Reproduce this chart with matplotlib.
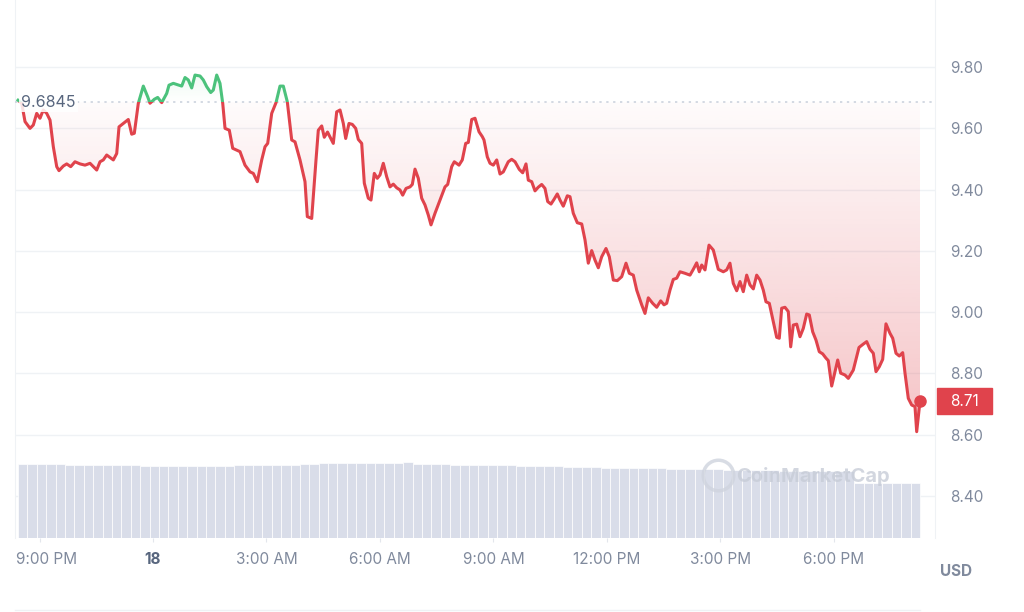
import numpy as np
import matplotlib.pyplot as plt
import matplotlib.transforms as mtransforms
from matplotlib.colors import LinearSegmentedColormap, to_rgb
from matplotlib.patches import Rectangle, Polygon
from matplotlib.lines import Line2D

plt.rcParams['font.family'] = ['Inter', 'DejaVu Sans']

# time in hours after 9:00 PM, price in USD
hours = [-0.568, -0.471, -0.383, -0.251, -0.164, -0.074, 0.013, 0.100, 0.190, 0.278,
         0.365, 0.455, 0.515, 0.629, 0.719, 0.825, 0.938, 1.071, 1.203, 1.335,
         1.422, 1.512, 1.599, 1.686, 1.776, 1.864, 1.951, 2.041, 2.102, 2.215,
         2.347, 2.437, 2.506, 2.612, 2.744, 2.860, 2.921, 3.035, 3.124, 3.230,
         3.362, 3.423, 3.537, 3.759, 3.846, 3.933, 4.023, 4.110, 4.243, 4.330,
         4.420, 4.526, 4.594, 4.684, 4.771, 4.843, 4.904, 5.017, 5.107, 5.213,
         5.300, 5.432, 5.565, 5.652, 5.757, 5.874, 5.961, 6.032, 6.138, 6.252,
         6.357, 6.445, 6.550, 6.667, 6.754, 6.886, 7.018, 7.079, 7.195, 7.309,
         7.370, 7.460, 7.528, 7.613, 7.766, 7.856, 7.944, 8.031, 8.094, 8.181,
         8.269, 8.358, 8.427, 8.517, 8.586, 8.692, 8.763, 8.850, 8.929, 9.001,
         9.088, 9.178, 9.265, 9.352, 9.442, 9.529, 9.601, 9.688, 9.794, 9.855,
         9.926, 10.013, 10.103, 10.190, 10.278, 10.349, 10.455, 10.587, 10.719, 10.790,
         10.896, 10.965, 11.089, 11.176, 11.266, 11.335, 11.425, 11.512, 11.618, 11.705,
         11.750, 11.837, 11.909, 11.996, 12.086, 12.173, 12.260, 12.392, 12.482, 12.570,
         12.683, 12.773, 12.860, 12.921, 13.011, 13.098, 13.185, 13.275, 13.362, 13.434,
         13.521, 13.600, 13.687, 13.759, 13.846, 13.952, 14.023, 14.110, 14.216, 14.333,
         14.420, 14.507, 14.597, 14.684, 14.772, 14.861, 14.975, 15.062, 15.168, 15.274,
         15.390, 15.504, 15.591, 15.697, 15.787, 15.919, 16.006, 16.093, 16.209, 16.315,
         16.421, 16.508, 16.579, 16.666, 16.754, 16.844, 16.931, 17.063, 17.195, 17.283,
         17.372, 17.441, 17.505, 17.592, 17.698, 17.811, 17.943, 18.076, 18.165, 18.252,
         18.340, 18.430, 18.517, 18.604, 18.694, 18.781, 18.869, 18.958, 19.046, 19.133,
         19.204, 19.292, 19.397, 19.487, 19.556, 19.619, 19.706, 19.794, 19.857, 19.926,
         20.016, 20.103, 20.190, 20.280, 20.349, 20.439, 20.526, 20.613, 20.703, 20.790,
         20.851, 20.941, 21.028, 21.100, 21.179, 21.292, 21.380, 21.512, 21.663, 21.777,
         21.866, 21.953, 22.041, 22.112, 22.199, 22.289, 22.376, 22.482, 22.554, 22.641,
         22.728, 22.818, 22.879, 22.966, 23.056, 23.143, 23.188, 23.276]
price = [9.692, 9.682, 9.622, 9.600, 9.611, 9.649, 9.633, 9.660, 9.649, 9.627,
         9.540, 9.475, 9.462, 9.477, 9.484, 9.475, 9.491, 9.484, 9.480, 9.486,
         9.475, 9.464, 9.491, 9.497, 9.513, 9.505, 9.497, 9.518, 9.605, 9.616,
         9.629, 9.581, 9.584, 9.682, 9.738, 9.703, 9.682, 9.695, 9.701, 9.684,
         9.714, 9.741, 9.747, 9.738, 9.766, 9.758, 9.732, 9.774, 9.771, 9.758,
         9.736, 9.717, 9.725, 9.774, 9.747, 9.682, 9.600, 9.594, 9.535, 9.529,
         9.524, 9.480, 9.458, 9.453, 9.426, 9.497, 9.540, 9.551, 9.649, 9.684,
         9.738, 9.738, 9.687, 9.562, 9.556, 9.497, 9.426, 9.312, 9.306, 9.497,
         9.594, 9.608, 9.571, 9.588, 9.551, 9.654, 9.660, 9.616, 9.567, 9.616,
         9.613, 9.600, 9.564, 9.551, 9.421, 9.372, 9.366, 9.453, 9.437, 9.448,
         9.486, 9.442, 9.409, 9.418, 9.406, 9.399, 9.382, 9.404, 9.409, 9.417,
         9.467, 9.437, 9.372, 9.350, 9.317, 9.285, 9.323, 9.366, 9.409, 9.417,
         9.475, 9.491, 9.480, 9.497, 9.551, 9.554, 9.629, 9.633, 9.589, 9.573,
         9.562, 9.507, 9.486, 9.480, 9.497, 9.451, 9.458, 9.491, 9.499, 9.491,
         9.466, 9.455, 9.484, 9.431, 9.426, 9.396, 9.408, 9.417, 9.404, 9.361,
         9.353, 9.368, 9.386, 9.366, 9.346, 9.380, 9.377, 9.323, 9.292, 9.288,
         9.236, 9.160, 9.201, 9.170, 9.145, 9.181, 9.208, 9.181, 9.105, 9.103,
         9.116, 9.160, 9.127, 9.121, 9.072, 9.024, 8.996, 9.047, 9.029, 9.016,
         9.037, 9.024, 9.029, 9.072, 9.107, 9.111, 9.132, 9.127, 9.121, 9.140,
         9.161, 9.132, 9.154, 9.138, 9.219, 9.203, 9.140, 9.132, 9.138, 9.160,
         9.094, 9.070, 9.100, 9.067, 9.121, 9.089, 9.076, 9.121, 9.105, 9.072,
         9.034, 9.029, 8.969, 8.918, 8.915, 9.013, 9.016, 9.002, 8.887, 8.958,
         8.961, 8.920, 8.947, 8.994, 8.991, 8.936, 8.909, 8.871, 8.864, 8.850,
         8.842, 8.759, 8.806, 8.844, 8.801, 8.795, 8.784, 8.811, 8.885, 8.896,
         8.904, 8.879, 8.866, 8.806, 8.822, 8.846, 8.962, 8.931, 8.915, 8.866,
         8.857, 8.868, 8.801, 8.719, 8.697, 8.692, 8.610, 8.710]
ref_price = 9.6845

# 24h volume bars (M USD), 96 equal slots over the same window
vol_start, vol_end = -0.568, 23.276
volume = [37.0, 37.0, 37.0, 36.8, 36.8,
          36.3, 36.3, 36.3, 36.3, 36.3, 36.3, 36.3, 36.3,
          36.0, 36.0, 36.0, 36.0, 36.0, 36.0, 36.0, 36.0, 36.0, 36.0,
          36.3, 36.3, 36.3, 36.3, 36.3, 36.3, 36.3,
          37.0, 37.0,
          37.5, 37.5, 37.5, 37.5, 37.5, 37.5, 37.5, 37.5, 37.5,
          37.8,
          36.8, 36.8, 36.8, 36.8,
          36.5, 36.5, 36.5, 36.5, 36.5, 36.5, 36.5,
          36.0, 36.0, 36.0, 36.0, 36.0,
          35.5, 35.5, 35.5, 35.5,
          35.0, 35.0, 35.0, 35.0, 35.0, 35.0, 35.0,
          34.3, 34.3, 34.3, 34.3, 34.3, 34.3,
          33.8, 33.8, 33.8, 33.8, 33.8, 33.8, 33.7, 33.7, 33.7, 33.6, 33.6, 33.6, 33.5, 33.5,
          27.5, 27.5, 27.5, 27.5, 27.5, 27.5, 27.5]

tick_hours = [0, 3, 6, 9, 12, 15, 18, 21]
tick_labels = ['9:00 PM', '18', '3:00 AM', '6:00 AM', '9:00 AM', '12:00 PM', '3:00 PM', '6:00 PM']
price_ticks = [8.40, 8.60, 8.80, 9.00, 9.20, 9.40, 9.60, 9.80]

red = '#e0434c'
green = '#4cc27c'
label_gray = '#808a9d'

fig = plt.figure(figsize=(10.24, 6.12), dpi=100)
ax = fig.add_axes([15/1024, 74/612, 920/1024, 538/612])
ax_vol = ax.twinx()

xmin, xmax = -0.648, 23.672
ymin, ymax = 8.263, 10.019

# volume
edges = np.linspace(vol_start, vol_end, len(volume) + 1)
centers = (edges[:-1] + edges[1:]) / 2
ax_vol.bar(centers, volume, width=np.diff(edges), color='#d9dde9',
           edgecolor='white', linewidth=0.5)
ax_vol.set_ylim(0, 269)
ax_vol.set_yticks([])
for s in ax_vol.spines.values():
    s.set_visible(False)

# gradient fills
red_rgb = to_rgb(red)
green_rgb = to_rgb(green)
red_cmap = LinearSegmentedColormap.from_list('r', [(*red_rgb, 0.32), (*red_rgb, 0.02)])
green_cmap = LinearSegmentedColormap.from_list('g', [(*green_rgb, 0.0), (*green_rgb, 0.10)])
grad = np.linspace(0, 1, 256).reshape(-1, 1)

lo = np.minimum(price, ref_price)
poly_lo = Polygon(list(zip(hours, lo)) + [(hours[-1], ref_price), (hours[0], ref_price)],
                  closed=True, fc='none', ec='none', transform=ax.transData)
ax.add_patch(poly_lo)
img = ax.imshow(grad, extent=[hours[0], hours[-1], 8.6, ref_price], origin='lower',
                cmap=red_cmap, aspect='auto', zorder=2)
img.set_clip_path(poly_lo)

hi = np.maximum(price, ref_price)
poly_hi = Polygon(list(zip(hours, hi)) + [(hours[-1], ref_price), (hours[0], ref_price)],
                  closed=True, fc='none', ec='none', transform=ax.transData)
ax.add_patch(poly_hi)
img2 = ax.imshow(grad, extent=[hours[0], hours[-1], ref_price, 9.78], origin='lower',
                 cmap=green_cmap, aspect='auto', zorder=2)
img2.set_clip_path(poly_hi)

# price line, red below the open price and green above it
below = Rectangle((-5, 0), 40, ref_price, transform=ax.transData)
above = Rectangle((-5, ref_price), 40, 10, transform=ax.transData)
l1, = ax.plot(hours, price, color=red, lw=2.2, solid_joinstyle='round', zorder=4)
l1.set_clip_path(below)
l2, = ax.plot(hours, price, color=green, lw=2.2, solid_joinstyle='round', zorder=4)
l2.set_clip_path(above)
ax.plot(hours[-1], price[-1], 'o', ms=8, color=red, zorder=6, clip_on=False)

ax.axhline(ref_price, color='#c8cfdb', lw=1.1, ls=(0, (1.5, 3)), zorder=3)
blend = mtransforms.blended_transform_factory(ax.transAxes, ax.transData)
ax.text(0.007, ref_price, '9.6845', transform=blend, ha='left', va='center',
        fontsize=11.5, color='#58667e', zorder=5,
        bbox=dict(fc='white', ec='none', alpha=0.85, pad=1.5))

# last price tag
ax.add_patch(Rectangle((1.0022, price[-1] - 0.041), 0.0598, 0.082, transform=blend,
                       color=red, clip_on=False, zorder=6))
ax.text(1.0022 + 0.0299, price[-1], '8.71', transform=blend, ha='center', va='center',
        color='white', fontsize=11, zorder=7, clip_on=False)

ax.set_xlim(xmin, xmax)
ax.set_ylim(ymin, ymax)
ax.yaxis.tick_right()
ax.set_yticks(price_ticks)
ax.set_yticklabels(['%.2f' % p for p in price_ticks])
ax.tick_params(axis='y', length=0, pad=11, labelsize=11, labelcolor=label_gray)
ax.set_xticks(tick_hours)
ax.set_xticklabels(tick_labels)
ax.tick_params(axis='x', length=3, color='#e3e6ec', pad=7, labelsize=11, labelcolor=label_gray)
xl = ax.get_xticklabels()
xl[1].set_fontweight('bold')
xl[1].set_color('#58667e')
# first label is pushed right so it stays inside the chart
xl[0].set_transform(xl[0].get_transform() + mtransforms.ScaledTranslation(5/72, 0, fig.dpi_scale_trans))
ax.yaxis.grid(True, color='#eff2f5', lw=1)
ax.set_axisbelow(True)
for side in ['top', 'bottom']:
    ax.spines[side].set_visible(False)
for side in ['left', 'right']:
    ax.spines[side].set_color('#eff2f5')

fig.text(940/1024, 1 - 572/612, 'USD', ha='left', va='center', fontsize=11,
         fontweight='bold', color=label_gray)

# watermark
fig.add_artist(Line2D([718/1024], [1 - 475/612], marker='o', ms=22, mfc='none',
                      mec='#cfd4de', mew=2.5, alpha=0.8))
fig.text(736/1024, 1 - 476/612, 'CoinMarketCap', ha='left', va='center', fontsize=14.5,
         fontweight='bold', color='#c7ccd7', alpha=0.8)
fig.add_artist(Line2D([15/1024, 920/1024], [1 - 610/612] * 2, color='#eff2f5', lw=1))

fig.savefig('out.png', dpi=100, facecolor='white')
